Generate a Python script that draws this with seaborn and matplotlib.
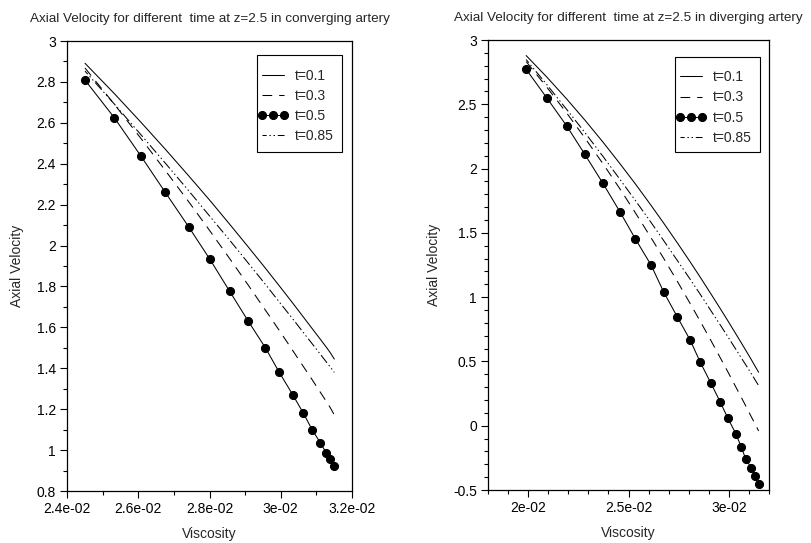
import matplotlib
matplotlib.use("Agg")
import matplotlib.pyplot as plt
import seaborn as sns
import pandas as pd
from matplotlib.ticker import FixedLocator, MultipleLocator
from matplotlib.patches import Rectangle

# ---------------- data: converging artery ----------------
conv_visc = [0.024505, 0.025328, 0.026069, 0.026759, 0.027425, 0.028014, 0.028567,
             0.029089, 0.029566, 0.029959, 0.030335, 0.030633, 0.030886, 0.031110,
             0.031279, 0.031391, 0.031503]
conv_t01 = [2.891, 2.743, 2.604, 2.471, 2.339, 2.220, 2.104, 1.993, 1.890, 1.803,
            1.719, 1.651, 1.593, 1.542, 1.503, 1.476, 1.445]
conv_t03 = [2.868, 2.691, 2.525, 2.367, 2.212, 2.071, 1.936, 1.806, 1.685, 1.585,
            1.487, 1.409, 1.343, 1.283, 1.238, 1.207, 1.172]
conv_t05 = [2.809, 2.625, 2.439, 2.260, 2.089, 1.932, 1.776, 1.630, 1.501, 1.380,
            1.271, 1.181, 1.098, 1.036, 0.986, 0.955, 0.922]
conv_t085 = [2.853, 2.692, 2.543, 2.403, 2.266, 2.142, 2.026, 1.914, 1.811, 1.724,
             1.642, 1.575, 1.519, 1.469, 1.431, 1.406, 1.380]

# ---------------- data: diverging artery ----------------
div_visc = [0.019901, 0.020941, 0.021916, 0.022822, 0.023727, 0.024569, 0.025346,
            0.026123, 0.026747, 0.027425, 0.028069, 0.028578, 0.029108, 0.029563,
            0.029950, 0.030345, 0.030618, 0.030841, 0.031123, 0.031286, 0.031484]
div_t01 = [2.879, 2.710, 2.542, 2.378, 2.206, 2.039, 1.880, 1.714, 1.577, 1.424,
           1.275, 1.154, 1.025, 0.913, 0.816, 0.715, 0.645, 0.587, 0.513, 0.468, 0.416]
div_t03 = [2.832, 2.631, 2.433, 2.239, 2.038, 1.843, 1.655, 1.462, 1.303, 1.125,
           0.951, 0.811, 0.662, 0.531, 0.419, 0.302, 0.221, 0.154, 0.068, 0.020, -0.041]
div_t05 = [2.772, 2.547, 2.333, 2.111, 1.885, 1.665, 1.452, 1.250, 1.042, 0.848,
           0.667, 0.493, 0.330, 0.187, 0.058, -0.061, -0.166, -0.259, -0.329, -0.391, -0.453]
div_t085 = [2.848, 2.651, 2.461, 2.281, 2.095, 1.917, 1.751, 1.581, 1.441, 1.287,
            1.140, 1.021, 0.894, 0.786, 0.692, 0.595, 0.528, 0.474, 0.403, 0.362, 0.312]

labels = ["t=0.1", "t=0.3", "t=0.5", "t=0.85"]

titles = ["Axial Velocity for different  time at z=2.5 in converging artery",
          "Axial Velocity for different  time at z=2.5 in diverging artery"]
xlabel = "Viscosity"
ylabel = "Axial Velocity"

conv_xticks = [0.024, 0.026, 0.028, 0.030, 0.032]
conv_xticklabels = ["2.4e-02", "2.6e-02", "2.8e-02", "3e-02", "3.2e-02"]
conv_yticks = [0.8, 1.0, 1.2, 1.4, 1.6, 1.8, 2.0, 2.2, 2.4, 2.6, 2.8, 3.0]
conv_yticklabels = ["0.8", "1", "1.2", "1.4", "1.6", "1.8", "2", "2.2", "2.4", "2.6", "2.8", "3"]
div_xticks = [0.020, 0.025, 0.030]
div_xticklabels = ["2e-02", "2.5e-02", "3e-02"]
div_yticks = [-0.5, 0.0, 0.5, 1.0, 1.5, 2.0, 2.5, 3.0]
div_yticklabels = ["-0.5", "0", "0.5", "1", "1.5", "2", "2.5", "3"]

# ---------------- style ----------------
sns.set_style("ticks")
plt.rcParams["font.family"] = ["Liberation Sans", "DejaVu Sans"]
plt.rcParams["lines.scale_dashes"] = False

FS = 10
TFS = 9.7
styles = [
    dict(linestyle="-", marker=None),
    dict(linestyle=(0, (7, 5)), marker=None),
    dict(linestyle="-", marker="o", markersize=5.8),
    dict(linestyle=(4, (7, 2, 1, 2, 1, 2)), marker=None),
]

fig = plt.figure(figsize=(8.12, 5.43), dpi=100)
ax1 = fig.add_axes([67 / 812, 1 - 491 / 543, 285 / 812, 450 / 543])
ax2 = fig.add_axes([488 / 812, 1 - 490 / 543, 281 / 812, 450 / 543])

# legend box (axes fraction): x0, y0, w, h
panels = [
    (ax1, conv_visc, [conv_t01, conv_t03, conv_t05, conv_t085], titles[0],
     (0.024, 0.032), (0.8, 3.0), conv_xticks, conv_xticklabels, conv_yticks, conv_yticklabels,
     0.001, 0.1, (0.667, 0.753, 0.298, 0.216)),
    (ax2, div_visc, [div_t01, div_t03, div_t05, div_t085], titles[1],
     (0.018, 0.032), (-0.5, 3.0), div_xticks, div_xticklabels, div_yticks, div_yticklabels,
     0.001, 0.1, (0.665, 0.751, 0.303, 0.212)),
]

for (ax, xs, ys_list, title, xlim, ylim, xt, xtl, yt, ytl, xminor, yminor, box) in panels:
    for ys, lab, st in zip(ys_list, labels, styles):
        df = pd.DataFrame({"x": xs, "y": ys})
        sns.lineplot(data=df, x="x", y="y", ax=ax, color="black", linewidth=0.75,
                     label=lab, sort=False, estimator=None,
                     markeredgecolor="black", markerfacecolor="black", **st)
    ax.set_xlim(*xlim)
    ax.set_ylim(*ylim)
    ax.xaxis.set_major_locator(FixedLocator(xt))
    ax.set_xticklabels(xtl)
    ax.yaxis.set_major_locator(FixedLocator(yt))
    ax.set_yticklabels(ytl)
    ax.xaxis.set_minor_locator(MultipleLocator(xminor))
    ax.yaxis.set_minor_locator(MultipleLocator(yminor))
    ax.tick_params(axis="both", which="major", length=5, width=0.8, labelsize=FS,
                   direction="out", colors="black", pad=3, top=False, right=False)
    ax.tick_params(axis="both", which="minor", length=3, width=0.8,
                   direction="out", colors="black", top=False, right=False)
    for sp in ax.spines.values():
        sp.set_visible(True)
        sp.set_linewidth(0.9)
        sp.set_color("black")
    ax.set_title(title, fontsize=TFS, pad=14)
    ax.set_xlabel(xlabel, fontsize=FS, labelpad=8)
    ax.set_ylabel(ylabel, fontsize=FS, labelpad=9)
    bx0, by0, bw, bh = box
    ax.add_patch(Rectangle((bx0, by0), bw, bh, transform=ax.transAxes, fill=True,
                           facecolor="white", edgecolor="black", linewidth=0.8, zorder=4))
    leg = ax.legend(loc="upper left", bbox_to_anchor=(bx0 - 0.008, by0 + bh - 0.024),
                    fontsize=FS, frameon=False, handlelength=2.2,
                    handletextpad=0.5, labelspacing=0.45, borderpad=0.2,
                    borderaxespad=0.0, numpoints=3)
    leg.set_zorder(5)

fig.savefig("out.png", dpi=100)
